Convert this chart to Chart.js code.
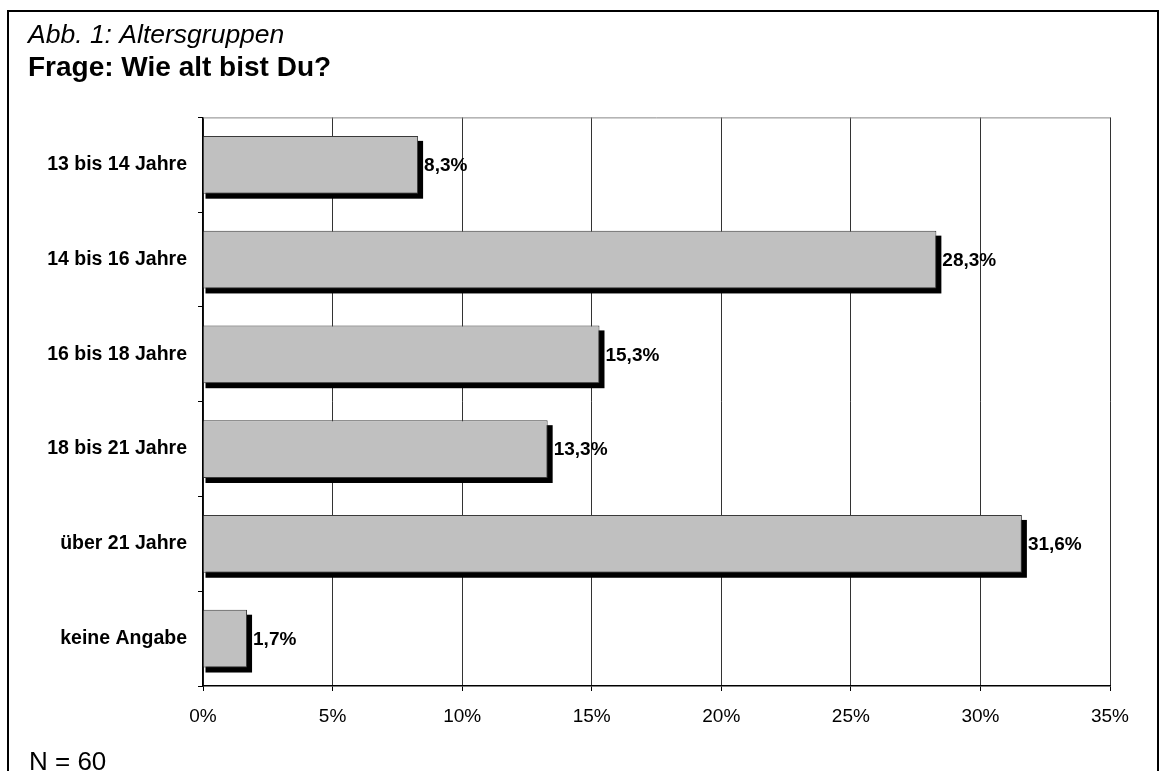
<!DOCTYPE html>
<html>
<head>
<meta charset="utf-8">
<script src="https://cdn.jsdelivr.net/npm/chart.js@4/dist/chart.umd.min.js"></script>
<style>
  body { margin: 0; background: #fff; }
  canvas { display: block; }
</style>
</head>
<body>
<canvas id="ageChart" width="1161" height="771"></canvas>
<script>
const categories = ['13 bis 14 Jahre', '14 bis 16 Jahre', '16 bis 18 Jahre', '18 bis 21 Jahre', 'über 21 Jahre', 'keine Angabe'];
const percentValues = [8.3, 28.3, 15.3, 13.3, 31.6, 1.7];
const titleText = 'Abb. 1: Altersgruppen';
const questionText = 'Frage: Wie alt bist Du?';
const footnoteText = 'N = 60';

Chart.defaults.font.family = '"Liberation Sans", Arial, sans-serif';
Chart.defaults.color = '#000';

// frame, plot top border and the footnote
const framePlugin = {
    id: 'frame',
    beforeDraw(chart) {
        const ctx = chart.ctx;
        ctx.save();
        ctx.fillStyle = '#fff';
        ctx.fillRect(0, 0, chart.width, chart.height);
        ctx.strokeStyle = '#000';
        ctx.lineWidth = 2;
        ctx.strokeRect(8, 11, 1150, 800);
        ctx.restore();
    },
    afterDraw(chart) {
        const ctx = chart.ctx;
        const area = chart.chartArea;
        ctx.save();
        ctx.strokeStyle = '#888';
        ctx.lineWidth = 1;
        ctx.beginPath();
        ctx.moveTo(area.left, area.top + 0.5);
        ctx.lineTo(area.right, area.top + 0.5);
        ctx.stroke();
        ctx.fillStyle = '#000';
        ctx.font = '26px "Liberation Sans", Arial, sans-serif';
        ctx.textBaseline = 'alphabetic';
        ctx.fillText(footnoteText, 29, 770);
        ctx.restore();
    }
};

// black drop shadow behind each bar and the value labels
const barExtras = {
    id: 'barExtras',
    beforeDatasetsDraw(chart) {
        const ctx = chart.ctx;
        const meta = chart.getDatasetMeta(0);
        ctx.save();
        ctx.fillStyle = '#000';
        meta.data.forEach(bar => {
            const p = bar.getProps(['x', 'y', 'base', 'height'], true);
            ctx.fillRect(p.base + 2, p.y - p.height / 2 + 5, p.x - p.base + 3, p.height);
        });
        ctx.restore();
    },
    afterDatasetsDraw(chart) {
        const ctx = chart.ctx;
        const meta = chart.getDatasetMeta(0);
        ctx.save();
        ctx.fillStyle = '#000';
        ctx.font = 'bold 19px "Liberation Sans", Arial, sans-serif';
        ctx.textBaseline = 'middle';
        ctx.textAlign = 'left';
        meta.data.forEach((bar, i) => {
            const label = percentValues[i].toFixed(1).replace('.', ',') + '%';
            ctx.fillText(label, bar.x + 6, bar.y + 1);
        });
        ctx.restore();
    }
};

const ctx = document.getElementById('ageChart').getContext('2d');
new Chart(ctx, {
    type: 'bar',
    data: {
        labels: categories,
        datasets: [{
            data: percentValues,
            backgroundColor: '#c0c0c0',
            borderColor: '#3a3a3a',
            borderWidth: 1,
            barPercentage: 0.61,
            categoryPercentage: 1
        }]
    },
    options: {
        indexAxis: 'y',
        responsive: false,
        devicePixelRatio: 1,
        animation: false,
        layout: {
            padding: { left: 28, right: 51, top: 0, bottom: 45 }
        },
        scales: {
            x: {
                min: 0,
                max: 35,
                ticks: {
                    stepSize: 5,
                    padding: 14,
                    font: { size: 19 },
                    color: '#000',
                    callback: v => v + '%'
                },
                grid: {
                    color: '#333',
                    lineWidth: 1,
                    drawTicks: true,
                    tickLength: 5,
                    tickColor: '#000'
                },
                border: { display: true, color: '#000', width: 1.5 },
                afterFit(scale) { scale.height = 40; }
            },
            y: {
                ticks: {
                    padding: 11,
                    font: { size: 19.5, weight: 'bold' },
                    color: '#000'
                },
                grid: {
                    offset: true,
                    drawOnChartArea: false,
                    drawTicks: true,
                    tickLength: 5,
                    tickColor: '#000'
                },
                border: { display: true, color: '#000', width: 1.5 },
                afterFit(scale) { scale.width = 175; }
            }
        },
        plugins: {
            legend: { display: false },
            tooltip: { enabled: false },
            title: {
                display: true,
                text: titleText,
                align: 'start',
                color: '#000',
                font: { size: 26.5, style: 'italic', weight: 'normal' },
                padding: { top: 20, bottom: 0 }
            },
            subtitle: {
                display: true,
                text: questionText,
                align: 'start',
                color: '#000',
                font: { size: 28, weight: 'bold' },
                padding: { top: 0, bottom: 32 }
            }
        }
    },
    plugins: [framePlugin, barExtras]
});
</script>
</body>
</html>
